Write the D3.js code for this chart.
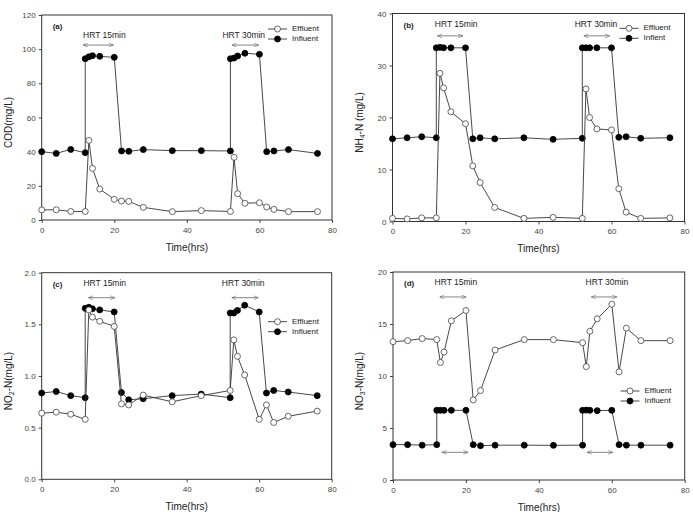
<!DOCTYPE html>
<html>
<head>
<meta charset="utf-8">
<script src="https://cdn.jsdelivr.net/npm/d3@7"></script>
<style>
  body { margin: 0; background: #fff; }
  svg { font-family: Arial, "Liberation Sans", sans-serif; }
</style>
</head>
<body>
<div id="chart"></div>
<script>
// time points (hrs) - the 12 and 52 steps appear twice in the influent series
const tEff = [0, 4, 8, 12, 13, 14, 16, 20, 22, 24, 28, 36, 44, 52, 53, 54, 56, 60, 62, 64, 68, 76];
const tInf = [0, 4, 8, 12, 12, 13, 14, 16, 20, 22, 24, 28, 36, 44, 52, 52, 53, 54, 56, 60, 62, 64, 68, 76];

// (a) COD
const codEff = [5.9, 6, 5, 5, 46.6, 30.2, 18.1, 12.1, 11.1, 10.9, 7.4, 4.9, 5.5, 5, 36.7, 15.4, 9.8, 10.1, 7.6, 6.2, 4.9, 4.9];
const codInf = [40, 39, 41.3, 39.4, 94.4, 95.5, 96.2, 95.8, 95.2, 40.4, 40.2, 41.2, 40.6, 40.6, 40.4, 94.4, 94.8, 96, 97.6, 97, 40, 40.4, 41.2, 39];
// (b) NH4-N
const nh4Eff = [0.6, 0.5, 0.7, 0.7, 28.5, 25.7, 21.1, 18.8, 10.7, 7.5, 2.7, 0.6, 0.8, 0.6, 25.5, 20, 17.8, 17.6, 6.3, 1.8, 0.6, 0.7];
const nh4Inf = [15.9, 16.1, 16.3, 16.1, 33.4, 33.5, 33.4, 33.4, 33.4, 15.9, 16.1, 15.9, 16.1, 15.8, 16, 33.4, 33.4, 33.4, 33.4, 33.4, 16.2, 16.3, 16, 16.1];
// (c) NO2-N
const no2Eff = [0.64, 0.65, 0.63, 0.58, 1.64, 1.57, 1.53, 1.48, 0.73, 0.72, 0.815, 0.75, 0.81, 0.86, 1.35, 1.19, 1.01, 0.58, 0.72, 0.55, 0.61, 0.66];
const no2Inf = [0.835, 0.85, 0.81, 0.79, 1.655, 1.665, 1.65, 1.64, 1.62, 0.84, 0.77, 0.78, 0.81, 0.825, 0.79, 1.61, 1.61, 1.635, 1.685, 1.62, 0.835, 0.86, 0.845, 0.81];
// (d) NO3-N
const no3Eff = [13.3, 13.4, 13.6, 13.5, 11.3, 12.3, 15.3, 16.3, 7.7, 8.6, 12.5, 13.5, 13.5, 13.2, 10.9, 14.3, 15.5, 16.9, 10.4, 14.6, 13.4, 13.4];
const no3Inf = [3.4, 3.4, 3.35, 3.4, 6.7, 6.7, 6.7, 6.7, 6.7, 3.4, 3.3, 3.35, 3.35, 3.33, 3.35, 6.7, 6.72, 6.7, 6.67, 6.7, 3.4, 3.35, 3.35, 3.35];

const xTicks = [0, 20, 40, 60, 80];

const width = 693, height = 512;
const svg = d3.select("#chart").append("svg")
  .attr("width", width)
  .attr("height", height);

const panels = [
  { tag: "(a)", box: [41.7, 15, 332, 220], yMax: 120, yTicks: [0, 20, 40, 60, 80, 100, 120], fmt: d3.format("d"),
    ytitle: ["COD(mg/L)"], eff: codEff, inf: codInf, legend: [277.5, 29], infName: "Influent",
    hrt: [{ label: "HRT 15min", tx: 11.4, ty: 107.7, arrows: [[11.4, 19.8, 102.4]] },
          { label: "HRT 30min", tx: 49.8, ty: 107.7, arrows: [[52.4, 59.8, 102.4]] }] },
  { tag: "(b)", box: [392.5, 13.5, 684.5, 221.5], yMax: 40, yTicks: [0, 10, 20, 30, 40], fmt: d3.format("d"),
    ytitle: ["NH", "4", "-N (mg/L)"], eff: nh4Eff, inf: nh4Inf, legend: [629, 28.3], infName: "Inflent",
    hrt: [{ label: "HRT 15min", tx: 11.6, ty: 37.9, arrows: [[12.3, 19.3, 35.7]] },
          { label: "HRT 30min", tx: 49.9, ty: 37.9, arrows: [[52.4, 59.5, 35.7]] }] },
  { tag: "(c)", box: [41.7, 272.7, 331.7, 479.3], yMax: 2, yTicks: [0, 0.5, 1, 1.5, 2], fmt: d3.format(".1f"),
    ytitle: ["NO", "2", "-N(mg/L)"], eff: no2Eff, inf: no2Inf, legend: [277.5, 321.7], infName: "Influent",
    hrt: [{ label: "HRT 15min", tx: 11.5, ty: 1.894, arrows: [[12.9, 20.2, 1.758]] },
          { label: "HRT 30min", tx: 49.7, ty: 1.894, arrows: [[52.4, 59.8, 1.758]] }] },
  { tag: "(d)", box: [393, 272, 684.7, 480], yMax: 20, yTicks: [0, 5, 10, 15, 20], fmt: d3.format("d"),
    ytitle: ["NO", "3", "-N(mg/L)"], eff: no3Eff, inf: no3Inf, legend: [630, 391], infName: "Influent",
    hrt: [{ label: "HRT 15min", tx: 11.4, ty: 18.97, arrows: [[12.8, 20.1, 17.6], [13.4, 20.6, 2.66]] },
          { label: "HRT 30min", tx: 52.8, ty: 18.97, arrows: [[54.4, 61.4, 17.6], [53.2, 60.3, 2.66]] }] }
];

// arrowheads
const defs = svg.append("defs");
["start", "end"].forEach(k => {
  defs.append("marker")
    .attr("id", "arr-" + k)
    .attr("viewBox", "0 0 10 10")
    .attr("refX", k == "end" ? 10 : 0).attr("refY", 5)
    .attr("markerWidth", 6).attr("markerHeight", 6)
    .attr("orient", "auto")
    .append("path")
    .attr("d", k == "end" ? "M0,1 L10,5 L0,9" : "M10,1 L0,5 L10,9")
    .attr("fill", "none").attr("stroke", "#666").attr("stroke-width", 1.2);
});

const lineCol = "#333";
const rDot = 3;

panels.forEach(p => {
  const [x0, y0, x1, y1] = p.box;
  const x = d3.scaleLinear().domain([0, 80]).range([x0, x1]);
  const y = d3.scaleLinear().domain([0, p.yMax]).range([y1, y0]);
  const g = svg.append("g");

  // axes
  g.append("g")
    .attr("transform", `translate(0,${y1})`)
    .call(d3.axisBottom(x).tickValues(xTicks).tickSize(3).tickSizeOuter(0).tickPadding(4))
    .call(a => a.select(".domain").remove())
    .call(a => a.selectAll("line").attr("stroke", "#444"))
    .call(a => a.selectAll("text").attr("font-size", 8).attr("fill", "#444").attr("font-family", null));
  g.append("g")
    .attr("transform", `translate(${x0},0)`)
    .call(d3.axisLeft(y).tickValues(p.yTicks).tickFormat(p.fmt).tickSize(3).tickSizeOuter(0).tickPadding(3))
    .call(a => a.select(".domain").remove())
    .call(a => a.selectAll("line").attr("stroke", "#444"))
    .call(a => a.selectAll("text").attr("font-size", 8).attr("fill", "#444").attr("font-family", null));

  g.append("rect")
    .attr("x", x0).attr("y", y0)
    .attr("width", x1 - x0).attr("height", y1 - y0)
    .attr("fill", "none").attr("stroke", "#333").attr("stroke-width", 1);

  // titles
  g.append("text")
    .attr("x", (x0 + x1) / 2).attr("y", y1 + 28)
    .attr("text-anchor", "middle").attr("dominant-baseline", "middle")
    .attr("font-size", 10).attr("fill", "#222")
    .text("Time(hrs)");
  const yt = g.append("text")
    .attr("transform", `translate(${x0 - 33},${(y0 + y1) / 2 + 5}) rotate(-90)`)
    .attr("text-anchor", "middle").attr("dominant-baseline", "middle")
    .attr("font-size", 10).attr("fill", "#222");
  p.ytitle.forEach((s, i) => {
    const ts = yt.append("tspan").text(s);
    if (i == 1) ts.attr("font-size", 7).attr("baseline-shift", "sub");
  });
  g.append("text")
    .attr("x", x0 + 11).attr("y", y0 + 14)
    .attr("font-size", 8).attr("font-weight", "bold").attr("fill", "#222")
    .text(p.tag);

  // HRT annotations
  p.hrt.forEach(h => {
    g.append("text")
      .attr("x", x(h.tx)).attr("y", y(h.ty))
      .attr("dominant-baseline", "middle")
      .attr("font-size", 8.5).attr("fill", "#222")
      .text(h.label);
    h.arrows.forEach(a => {
      g.append("line")
        .attr("x1", x(a[0])).attr("x2", x(a[1]))
        .attr("y1", y(a[2])).attr("y2", y(a[2]))
        .attr("stroke", "#666").attr("stroke-width", 0.8)
        .attr("marker-start", "url(#arr-start)")
        .attr("marker-end", "url(#arr-end)");
    });
  });

  const line = d3.line().x(d => x(d[0])).y(d => y(d[1]));
  const infPts = tInf.map((t, i) => [t, p.inf[i]]);
  const effPts = tEff.map((t, i) => [t, p.eff[i]]);

  [[infPts, "#000"], [effPts, "#fff"]].forEach(([pts, fill]) => {
    g.append("path").datum(pts)
      .attr("d", line)
      .attr("fill", "none").attr("stroke", lineCol).attr("stroke-width", 0.9);
    g.append("g").selectAll("circle")
      .data(pts).enter().append("circle")
      .attr("cx", d => x(d[0])).attr("cy", d => y(d[1]))
      .attr("r", rDot)
      .attr("fill", fill).attr("stroke", fill == "#fff" ? "#444" : "#000").attr("stroke-width", 0.8);
  });

  // legend
  const [lx, ly] = p.legend;
  [["Effluent", "#fff", 0], [p.infName, "#000", 10]].forEach(([name, fill, dy]) => {
    g.append("line")
      .attr("x1", lx - 9.5).attr("x2", lx + 9.5)
      .attr("y1", ly + dy).attr("y2", ly + dy)
      .attr("stroke", lineCol).attr("stroke-width", 0.9);
    g.append("circle")
      .attr("cx", lx).attr("cy", ly + dy).attr("r", rDot)
      .attr("fill", fill).attr("stroke", fill == "#fff" ? "#444" : "#000").attr("stroke-width", 0.8);
    g.append("text")
      .attr("x", lx + 14.5).attr("y", ly + dy)
      .attr("dominant-baseline", "middle")
      .attr("font-size", 8).attr("fill", "#222")
      .text(name);
  });
});
</script>
</body>
</html>
